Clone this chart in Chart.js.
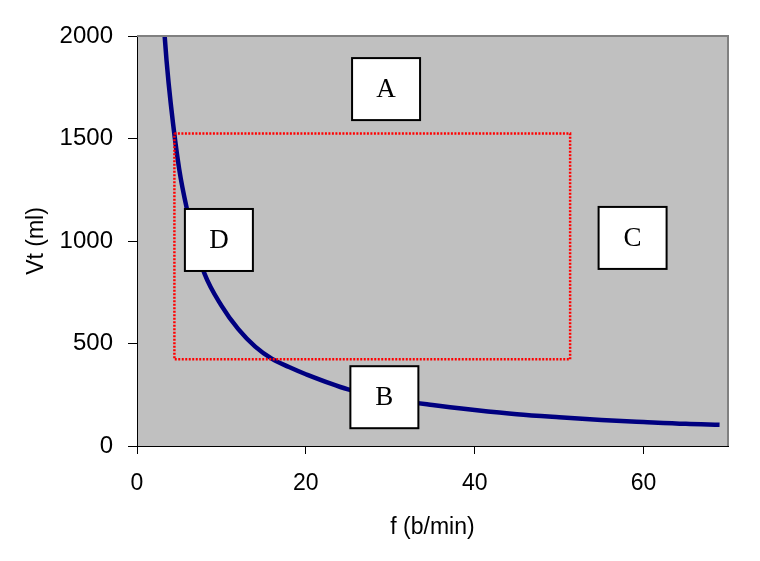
<!DOCTYPE html>
<html>
<head>
<meta charset="utf-8">
<script src="https://cdn.jsdelivr.net/npm/chart.js@4"></script>
<style>
  html, body { margin: 0; padding: 0; background: #fff; }
  #wrap { width: 760px; height: 561px; }
</style>
</head>
<body>
<div id="wrap"><canvas id="chart" width="760" height="561"></canvas></div>
<script>
// curve Vt vs f
const fValues = [3, 3.5, 4, 5, 6, 7, 8, 10, 12, 14, 16, 18, 20, 25, 30, 35, 40, 45, 50, 55, 60, 65, 69];
const vtValues = [2150, 1880, 1670, 1350, 1140, 975, 840, 685, 570, 485, 425, 385, 350, 276, 230, 200, 176, 155, 140, 127, 117, 108, 104];

// dotted red rectangle corners
const rectF = [4.43, 51.3, 51.3, 4.43, 4.43];
const rectVt = [1525, 1525, 423, 423, 1525];

// lettered boxes
const boxLabels = ['A', 'B', 'C', 'D'];
const boxF = [29.5, 29.3, 58.7, 9.7];
const boxVt = [1741, 238, 1015, 1005];

const xTicks = [0, 20, 40, 60];
const yTicks = [0, 500, 1000, 1500, 2000];

const sansFont = "'Liberation Sans', Arial, sans-serif";
const serifFont = "'Liberation Serif', 'Times New Roman', serif";

const plotBackground = {
    id: 'plotBackground',
    beforeDraw(chart) {
        const {ctx, chartArea: a} = chart;
        ctx.save();
        ctx.fillStyle = '#c0c0c0';
        ctx.fillRect(a.left, a.top, a.right - a.left, a.bottom - a.top);
        ctx.restore();
    },
    afterDatasetsDraw(chart) {
        const {ctx, chartArea: a} = chart;
        ctx.save();
        ctx.strokeStyle = '#808080';
        ctx.lineWidth = 2;
        ctx.beginPath();
        ctx.moveTo(a.left, a.top);
        ctx.lineTo(a.right, a.top);
        ctx.lineTo(a.right, a.bottom);
        ctx.stroke();
        ctx.restore();
    }
};

const letterBoxes = {
    id: 'letterBoxes',
    afterDraw(chart) {
        const {ctx, scales} = chart;
        const w = 68, h = 62;
        ctx.save();
        boxLabels.forEach((label, i) => {
            const cx = scales.x.getPixelForValue(boxF[i]);
            const cy = scales.y.getPixelForValue(boxVt[i]);
            ctx.fillStyle = '#fff';
            ctx.fillRect(cx - w / 2, cy - h / 2, w, h);
            ctx.strokeStyle = '#000';
            ctx.lineWidth = 2;
            ctx.strokeRect(cx - w / 2, cy - h / 2, w, h);
            ctx.fillStyle = '#000';
            ctx.font = '27px ' + serifFont;
            ctx.textAlign = 'center';
            ctx.textBaseline = 'middle';
            ctx.fillText(label, cx, cy + 1);
        });
        ctx.restore();
    }
};

new Chart(document.getElementById('chart'), {
    type: 'scatter',
    data: {
        datasets: [
            {
                label: 'Vt',
                data: fValues.map((f, i) => ({x: f, y: vtValues[i]})),
                showLine: true,
                borderColor: '#000080',
                borderWidth: 4.5,
                pointRadius: 0,
                cubicInterpolationMode: 'monotone',
                order: 2
            },
            {
                label: 'zone',
                data: rectF.map((f, i) => ({x: f, y: rectVt[i]})),
                showLine: true,
                borderColor: '#ff0000',
                borderWidth: 2.5,
                borderDash: [2, 1.5],
                pointRadius: 0,
                tension: 0,
                order: 1
            }
        ]
    },
    options: {
        responsive: false,
        animation: false,
        layout: { padding: { top: 36, right: 32, left: 0, bottom: 0 } },
        plugins: {
            legend: { display: false },
            tooltip: { enabled: false }
        },
        scales: {
            x: {
                type: 'linear',
                min: 0,
                max: 70,
                afterBuildTicks: s => { s.ticks = xTicks.map(v => ({value: v})); },
                afterFit: s => { s.height = 115; },
                grid: { drawOnChartArea: false, tickLength: 8, color: '#000' },
                border: { color: '#000', width: 1 },
                ticks: { color: '#000', padding: 16, maxRotation: 0, callback: v => String(v), font: { family: sansFont, size: 23 } },
                title: { display: true, text: 'f (b/min)', color: '#000', padding: { top: 0, bottom: 20 }, font: { family: sansFont, size: 23 } }
            },
            y: {
                type: 'linear',
                min: 0,
                max: 2000,
                afterBuildTicks: s => { s.ticks = yTicks.map(v => ({value: v})); },
                afterFit: s => { s.width = 137; },
                grid: { drawOnChartArea: false, tickLength: 9, color: '#000' },
                border: { color: '#000', width: 1 },
                ticks: { color: '#000', padding: 15, callback: v => String(v), font: { family: sansFont, size: 24 } },
                title: { display: true, text: 'Vt (ml)', color: '#000', padding: { top: 23, bottom: 0 }, font: { family: sansFont, size: 23 } }
            }
        }
    },
    plugins: [plotBackground, letterBoxes]
});
</script>
</body>
</html>
